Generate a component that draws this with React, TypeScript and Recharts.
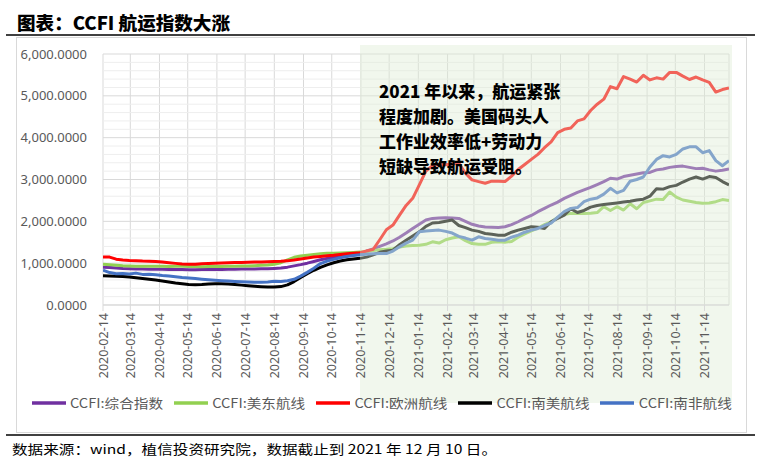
import React from 'react';
import { LineChart, Line, XAxis, YAxis, CartesianGrid, ReferenceArea, ReferenceLine } from 'recharts';

// ---------- categories ----------
const START_DATE = '2020-02-14';
const END_DATE = '2021-12-10';
const SHADE_START = '2020-11-13';
const WEEK_COUNT = 96;

const TICK_LABELS = [
  '2020-02-14', '2020-03-14', '2020-04-14', '2020-05-14', '2020-06-14', '2020-07-14',
  '2020-08-14', '2020-09-14', '2020-10-14', '2020-11-14', '2020-12-14', '2021-01-14',
  '2021-02-14', '2021-03-14', '2021-04-14', '2021-05-14', '2021-06-14', '2021-07-14',
  '2021-08-14', '2021-09-14', '2021-10-14', '2021-11-14',
];
const Y_TICKS = [0, 1000, 2000, 3000, 4000, 5000, 6000];

// ---------- series values (weekly) ----------
const COMPOSITE = [
  900, 895, 885, 872, 866, 862, 860, 857, 855, 852,
  850, 848, 846, 845, 845, 846, 847, 848, 850, 852,
  855, 858, 860, 862, 865, 868, 875, 885, 905, 935,
  965, 1000, 1040, 1080, 1110, 1140, 1165, 1185, 1200, 1215,
  1290, 1340, 1400, 1460, 1530, 1620, 1720, 1830, 1930, 2030,
  2070, 2080, 2085, 2080, 2070, 2000, 1930, 1890, 1865, 1860,
  1855, 1870, 1920, 1990, 2070, 2140, 2230, 2310, 2390, 2460,
  2550, 2620, 2690, 2750, 2810, 2880, 2950, 3030, 3010, 3070,
  3100, 3130, 3160, 3170, 3230, 3250, 3290, 3310, 3320, 3290,
  3260, 3270, 3230, 3200, 3220, 3250,
];
const US_EAST = [
  975, 965, 950, 938, 930, 925, 925, 925, 928, 925,
  922, 925, 925, 920, 918, 915, 918, 920, 922, 925,
  928, 932, 935, 940, 948, 958, 975, 1010, 1080, 1140,
  1170, 1190, 1210, 1225, 1235, 1240, 1245, 1250, 1258, 1265,
  1270, 1300, 1320, 1330, 1345, 1385, 1410, 1420, 1430, 1450,
  1510, 1480, 1560, 1600, 1630, 1540, 1470, 1455, 1450, 1500,
  1510, 1500, 1520, 1620, 1700, 1770, 1840, 1920, 1990, 2090,
  2160, 2190, 2190, 2190, 2195, 2210, 2350, 2260, 2350, 2270,
  2420, 2300, 2450, 2490, 2530, 2520, 2700, 2580, 2510, 2480,
  2450, 2430, 2440, 2470, 2520, 2500,
];
const EUROPE = [
  1150, 1145, 1095, 1075, 1065, 1060, 1052, 1048, 1040, 1030,
  1012, 995, 980, 972, 975, 985, 995, 1000, 1005, 1010,
  1015, 1018, 1020, 1025, 1030, 1035, 1040, 1045, 1055, 1075,
  1100, 1125, 1145, 1160, 1175, 1190, 1210, 1225, 1240, 1250,
  1290, 1330, 1560, 1800, 1910, 2150, 2380, 2550, 2870, 3200,
  3330, 3360, 3350, 3370, 3390, 3150, 2990, 2950, 2910, 2960,
  2960, 2950, 3080, 3240, 3360, 3480, 3600, 3760, 3900, 4120,
  4200, 4230, 4400, 4450, 4650, 4800, 4920, 5220, 5170, 5460,
  5400, 5330, 5490, 5380, 5430, 5400, 5560, 5560, 5470, 5390,
  5450, 5380, 5320, 5090, 5150, 5190,
];
const SOUTH_AMERICA = [
  700, 695, 690, 680, 668, 652, 635, 615, 595, 572,
  548, 525, 508, 492, 485, 490, 500, 505, 505, 500,
  490, 475, 460, 448, 438, 430, 428, 440, 480, 560,
  660, 750, 830, 900, 960, 1010, 1050, 1080, 1100, 1115,
  1145, 1200, 1260, 1290, 1310, 1440, 1550, 1650, 1750, 1880,
  1960, 1970, 2000, 2030, 1900, 1850, 1790, 1760, 1710, 1690,
  1670, 1670, 1740, 1790, 1830, 1870, 1860, 1830, 1990, 2070,
  2150, 2300, 2210, 2260, 2340, 2380, 2400, 2420, 2440, 2460,
  2480, 2510, 2530, 2600, 2780, 2770, 2830, 2860, 2940, 3010,
  3060, 3010, 3070, 3050, 2950, 2870,
];
const SOUTH_AFRICA = [
  830, 775, 748, 752, 740, 762, 732, 735, 722, 705,
  692, 675, 658, 645, 632, 618, 605, 592, 582, 572,
  562, 555, 548, 542, 545, 552, 565, 560, 578, 615,
  690, 780, 880, 990, 1050, 1090, 1130, 1160, 1185, 1200,
  1215, 1225, 1230, 1230, 1290, 1390, 1480, 1550, 1750, 1770,
  1780, 1790, 1760, 1720, 1640, 1600, 1550, 1630, 1590, 1570,
  1550, 1550, 1620, 1670, 1740, 1790, 1830, 1900, 1960, 2100,
  2230, 2310, 2330, 2470, 2530, 2560, 2650, 2790, 2680, 2740,
  2960, 3000, 3060, 3300, 3480, 3570, 3540, 3600, 3730, 3780,
  3780, 3640, 3690, 3450, 3330, 3450,
];

const SERIES_NAMES = ['CCFI:综合指数', 'CCFI:美东航线', 'CCFI:欧洲航线', 'CCFI:南美航线', 'CCFI:南非航线'];
const SERIES_KEYS = ['composite', 'usEast', 'europe', 'southAmerica', 'southAfrica'];
const SERIES_COLORS = ['#7030A0', '#92D050', '#FF0000', '#000000', '#4472C4'];
const SERIES_VALUES = [COMPOSITE, US_EAST, EUROPE, SOUTH_AMERICA, SOUTH_AFRICA];

const TITLE = '图表：CCFI 航运指数大涨';
const SOURCE = '数据来源：wind，植信投资研究院，数据截止到 2021 年 12 月 10 日。';
const ANNOTATION = ['2021 年以来，航运紧张', '程度加剧。美国码头人', '工作业效率低+劳动力', '短缺导致航运受阻。'];

// ---------- derived ----------
const DAY = 86400000;
const toTs = (s: string) => Date.parse(s + 'T00:00:00Z');
const T0 = toTs(START_DATE);
const T_END = toTs(END_DATE);
const T_SHADE = toTs(SHADE_START);
const TICK_TS = TICK_LABELS.map(toTs);

const data = Array.from({ length: WEEK_COUNT }, (_, i) => {
  const row: Record<string, number> = { t: T0 + i * 7 * DAY };
  SERIES_KEYS.forEach((k, s) => { row[k] = SERIES_VALUES[s][i]; });
  return row;
});

const MINOR_Y: number[] = [];
for (let v = 200; v < 6000; v += 200) if (v % 1000 !== 0) MINOR_Y.push(v);

const fmtDate = (v: number) => new Date(v).toISOString().slice(0, 10);
const fmtY = (v: number) => v.toLocaleString('en-US', { minimumFractionDigits: 4, maximumFractionDigits: 4 });

const FONT = '"Noto Sans", "Noto Sans CJK SC", sans-serif';
const CJK = '"Noto Sans CJK SC", sans-serif';

const XTick = (props: any) => {
  const { x, y, payload } = props;
  return (
    <text x={x} y={y} transform={`rotate(-90 ${x} ${y})`} textAnchor="end" dominantBaseline="central"
      fontSize={12.5} fill="#595959" fontFamily={FONT}>
      {fmtDate(payload.value)}
    </text>
  );
};

const ShadeShape = (p: any) => (
  <rect x={p.x} y={p.y - 9} width={p.width + 3} height={p.height + 107}
    fill="rgb(222,235,212)" fillOpacity={0.42} />
);

export default function App() {
  return (
    <div style={{ position: 'absolute', left: 0, top: 0, width: 769, height: 458, background: '#fff', overflow: 'hidden' }}>
      <svg width={769} height={458} style={{ position: 'absolute', left: 0, top: 0 }}>
        <text x={17} y={30} fontSize={18} fontWeight={900} fontFamily={CJK} fill="#000"
          textLength={213} lengthAdjust="spacingAndGlyphs">{TITLE}</text>
        <line x1={6} x2={755} y1={35} y2={35} stroke="#000" strokeWidth={1.5} />
        <rect x={16.5} y={37.5} width={730} height={395} fill="none" stroke="#D9D9D9" />
        <line x1={6} x2={755} y1={435} y2={435} stroke="#000" strokeWidth={1.5} />
        <text x={12} y={454} fontSize={13} fontFamily={CJK} fill="#000"
          textLength={485} lengthAdjust="spacingAndGlyphs">{SOURCE}</text>
      </svg>
      <div style={{ position: 'absolute', left: 0, top: 0 }}>
        <LineChart width={769} height={420} data={data}
          margin={{ top: 54, right: 40, left: 10, bottom: 35 }}
          style={{ fontFamily: FONT }}>
          <CartesianGrid stroke="#D9D9D9" strokeWidth={1} />
          {MINOR_Y.map((v) => (
            <ReferenceLine key={v} y={v} stroke="#EEEEEE" strokeWidth={1} />
          ))}
          <XAxis dataKey="t" type="number" domain={[T0, T_END]} ticks={TICK_TS} interval={0}
            tick={<XTick />} tickSize={6} tickLine={{ stroke: '#D9D9D9' }}
            axisLine={{ stroke: '#D9D9D9' }} height={80} allowDataOverflow />
          <YAxis domain={[0, 6000]} ticks={Y_TICKS} tickFormatter={fmtY} width={93}
            axisLine={false} tickLine={false} tickMargin={10}
            tick={{ fontSize: 13, fill: '#595959', fontFamily: FONT }} />
          {SERIES_KEYS.map((k, s) => (
            <Line key={k} dataKey={k} name={SERIES_NAMES[s]} stroke={SERIES_COLORS[s]} strokeWidth={3}
              dot={false} type="linear" isAnimationActive={false} strokeLinejoin="round" />
          ))}
          <ReferenceArea x1={T_SHADE} x2={T_END} y1={0} y2={6000} ifOverflow="visible"
            shape={<ShadeShape />} {...({ zIndex: 450 } as any)} />
        </LineChart>
      </div>
      <svg width={769} height={458} style={{ position: 'absolute', left: 0, top: 0, pointerEvents: 'none' }}>
        {ANNOTATION.map((line, i) => (
          <text key={i} x={379} y={98 + i * 25} fontSize={17} fontWeight={900} fontFamily={CJK} fill="#000">
            {line}
          </text>
        ))}
        {SERIES_NAMES.map((name, s) => (
          <g key={name}>
            <line x1={32 + s * 142} x2={66 + s * 142} y1={403} y2={403}
              stroke={SERIES_COLORS[s]} strokeWidth={3.5} />
            <text x={70 + s * 142.2} y={408} fontSize={13} fill="#595959" fontFamily={CJK}
              textLength={93} lengthAdjust="spacingAndGlyphs">{name}</text>
          </g>
        ))}
      </svg>
    </div>
  );
}
